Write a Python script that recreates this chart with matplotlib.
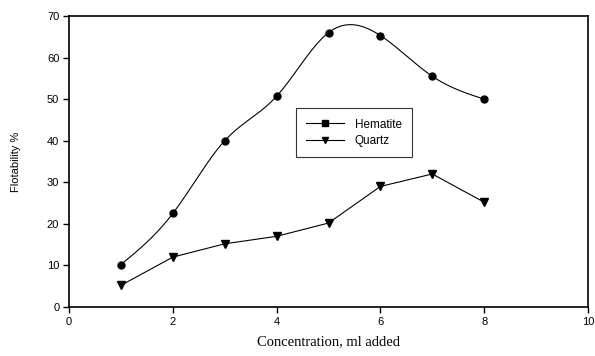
import numpy as np
import matplotlib
matplotlib.use("Agg")
import matplotlib.pyplot as plt
from matplotlib.lines import Line2D

concentration = [1, 2, 3, 4, 5, 6, 7, 8]
hematite = [10.2, 22.5, 40.0, 50.7, 66.0, 65.3, 55.5, 50.0]
quartz = [5.2, 12.0, 15.2, 17.0, 20.2, 29.0, 32.0, 25.2]
xticks = [0, 2, 4, 6, 8, 10]
yticks = [0, 10, 20, 30, 40, 50, 60, 70]


def natural_spline(x, y, n=300):
    x = np.asarray(x, float)
    y = np.asarray(y, float)
    m = len(x)
    h = np.diff(x)
    A = np.zeros((m, m))
    b = np.zeros(m)
    A[0, 0] = 1
    A[-1, -1] = 1
    for i in range(1, m - 1):
        A[i, i - 1] = h[i - 1]
        A[i, i] = 2 * (h[i - 1] + h[i])
        A[i, i + 1] = h[i]
        b[i] = 3 * ((y[i + 1] - y[i]) / h[i] - (y[i] - y[i - 1]) / h[i - 1])
    c = np.linalg.solve(A, b)
    xs = np.linspace(x[0], x[-1], n)
    ys = np.empty_like(xs)
    for k, xv in enumerate(xs):
        i = min(np.searchsorted(x, xv, side="right") - 1, m - 2)
        dx = xv - x[i]
        bi = (y[i + 1] - y[i]) / h[i] - h[i] * (2 * c[i] + c[i + 1]) / 3
        di = (c[i + 1] - c[i]) / (3 * h[i])
        ys[k] = y[i] + bi * dx + c[i] * dx ** 2 + di * dx ** 3
    return xs, ys


plt.rcParams["font.family"] = ["Liberation Sans", "DejaVu Sans"]
fig = plt.figure(figsize=(5.95, 3.56), dpi=100)
ax = fig.add_axes([69 / 595, 1 - 307 / 356, 519 / 595, 291 / 356])

xs, ys = natural_spline(concentration, hematite)
ax.plot(xs, ys, color="black", lw=0.8)
ax.plot(concentration, hematite, "o", color="black", ms=5)
ax.plot(concentration, quartz, "-v", color="black", lw=0.8, ms=6)

ax.set_xlim(0, 10)
ax.set_ylim(0, 70)
ax.set_xticks(xticks)
ax.set_yticks(yticks)
ax.tick_params(direction="out", length=4, width=1, labelsize=8, pad=3)
for s in ax.spines.values():
    s.set_linewidth(1.2)

ax.set_xlabel("Concentration, ml added", family=["Liberation Serif"], fontsize=10.5, labelpad=6)
ax.set_ylabel("Flotability %", fontsize=8, labelpad=19)

handles = [
    Line2D([], [], color="black", lw=0.8, marker="s", ms=4),
    Line2D([], [], color="black", lw=0.8, marker="v", ms=5),
]
leg = ax.legend(handles, ["Hematite", "Quartz"], loc="upper left",
                bbox_to_anchor=(0.437, 0.684), fontsize=8.5, frameon=True,
                fancybox=False, edgecolor="black", handlelength=3.2,
                borderpad=0.9, labelspacing=0.35, borderaxespad=0,
                handletextpad=0.9)
leg.get_frame().set_linewidth(0.8)

fig.savefig("out.png", dpi=100)
